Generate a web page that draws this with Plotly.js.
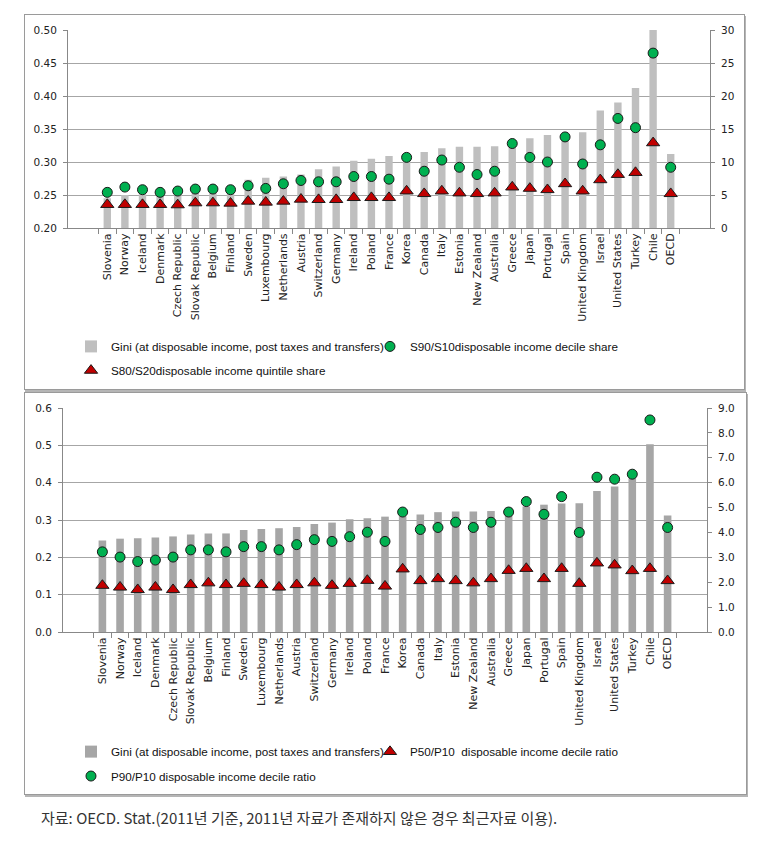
<!DOCTYPE html>
<html>
<head>
<meta charset="utf-8">
<script src="https://cdn.plot.ly/plotly-3.0.1.min.js"></script>
<style>
  html, body { margin: 0; padding: 0; background: #ffffff; }
  body { width: 758px; height: 851px; position: relative; overflow: hidden; }
  .box { position: absolute; border: 1px solid #9a9a9a; box-shadow: 1px 2px 0 #b5b5b5; background: #fff; }
  #boxTop { left: 24px; top: 14px; width: 719px; height: 374px; }
  #boxBot { left: 24px; top: 392px; width: 721px; height: 401px; }
  #chartTop { width: 719px; height: 374px; }
  #chartBot { width: 721px; height: 401px; }
  #caption { position: absolute; left: 41px; top: 807px; font-family: "Noto Sans CJK KR", sans-serif; font-size: 15px; color: #333; white-space: nowrap; }
</style>
</head>
<body>
<div class="box" id="boxTop"><div id="chartTop"></div></div>
<div class="box" id="boxBot"><div id="chartBot"></div></div>
<div id="caption">자료: OECD. Stat.(2011년 기준, 2011년 자료가 존재하지 않은 경우 최근자료 이용).</div>
<script>
// ---------- data ----------
const countries = ["Slovenia","Norway","Iceland","Denmark","Czech Republic","Slovak Republic","Belgium","Finland","Sweden","Luxembourg","Netherlands","Austria","Switzerland","Germany","Ireland","Poland","France","Korea","Canada","Italy","Estonia","New Zealand","Australia","Greece","Japan","Portugal","Spain","United Kingdom","Israel","United States","Turkey","Chile","OECD"];

const gini = [0.245,0.250,0.251,0.253,0.256,0.261,0.264,0.264,0.273,0.276,0.278,0.281,0.289,0.293,0.302,0.305,0.309,0.310,0.315,0.321,0.323,0.323,0.324,0.333,0.336,0.341,0.344,0.345,0.378,0.390,0.412,0.503,0.312];

const s90s10 = [5.4,6.2,5.8,5.4,5.6,5.9,5.9,5.8,6.4,6.0,6.7,7.2,7.0,7.0,7.8,7.8,7.4,10.7,8.6,10.3,9.2,8.1,8.6,12.8,10.7,10.0,13.8,9.7,12.6,16.6,15.2,26.5,9.2];

const s80s20 = [3.55,3.55,3.55,3.55,3.5,3.8,3.8,3.75,4.05,3.9,4.05,4.35,4.3,4.3,4.6,4.6,4.6,5.6,5.2,5.6,5.3,5.2,5.3,6.2,6.0,5.8,6.7,5.6,7.3,8.1,8.4,12.9,5.2];

const p90p10 = [3.22,3.01,2.83,2.89,3.01,3.3,3.3,3.22,3.43,3.43,3.3,3.51,3.71,3.64,3.83,4.01,3.64,4.82,4.12,4.2,4.41,4.2,4.41,4.82,5.24,4.73,5.44,4.0,6.22,6.14,6.34,8.52,4.2];

const p50p10 = [1.87,1.8,1.7,1.8,1.7,1.9,1.97,1.9,1.95,1.9,1.8,1.9,1.97,1.87,1.95,2.07,1.84,2.53,2.06,2.14,2.06,1.97,2.14,2.47,2.55,2.14,2.55,1.95,2.77,2.69,2.46,2.55,2.06];

const nameGini = "Gini (at disposable income, post taxes and transfers)";
const nameS90 = "S90/S10disposable income decile share";
const nameS80 = "S80/S20disposable income quintile share";
const nameP50 = "P50/P10  disposable income decile ratio";
const nameP90 = "P90/P10 disposable income decile ratio";

// ---------- styles ----------
const tickFont = {family: "DejaVu Sans", size: 10.5, color: "#222"};
const catFont = {family: "DejaVu Sans", size: 11, color: "#222"};
const legFont = {family: "Liberation Sans, Arial, sans-serif", size: 11.7, color: "#111"};
const circleMarker = {symbol: "circle", size: 10, color: "#00b050", line: {color: "#1a1a1a", width: 1}};
const triMarker = {symbol: "triangle-up", size: 11.5, color: "#c00000", line: {color: "#1a1a1a", width: 1}};

function xAxis() {
  return {type: "category", tickson: "boundaries", ticks: "outside", ticklen: 5, tickcolor: "#888",
    showline: true, linecolor: "#888", linewidth: 1, tickangle: -90, tickfont: catFont,
    showgrid: false, zeroline: false, automargin: false};
}
function yLeft(range, dtick, fmt) {
  return {range: range, dtick: dtick, tick0: 0, tickformat: fmt, showgrid: true, gridcolor: "#a6a6a6", gridwidth: 1,
    showline: true, linecolor: "#888", ticks: "outside", ticklen: 4, tickcolor: "#888", tickfont: tickFont,
    zeroline: false, ticklabelstandoff: 4, automargin: false};
}
function yRight(range, dtick, fmt) {
  return {range: range, dtick: dtick, tick0: 0, tickformat: fmt, overlaying: "y", side: "right", showgrid: false,
    showline: true, linecolor: "#888", ticks: "outside", ticklen: 4, tickcolor: "#888", tickfont: tickFont,
    zeroline: false, ticklabelstandoff: 4, automargin: false};
}
function leg(x, y) {
  return {orientation: "h", x: x, xanchor: "left", y: y, yanchor: "middle", font: legFont,
    bgcolor: "rgba(0,0,0,0)", itemwidth: 30};
}

// ---------- top chart ----------
const topData = [
  {type: "bar", x: countries, y: gini, name: nameGini, marker: {color: "#bfbfbf"}, legend: "legend", yaxis: "y"},
  {type: "scatter", mode: "markers", x: countries, y: s90s10, name: nameS90, marker: circleMarker, yaxis: "y2", legend: "legend2"},
  {type: "scatter", mode: "markers", x: countries, y: s80s20, name: nameS80, marker: triMarker, yaxis: "y2", legend: "legend3"}
];
const topLayout = {
  width: 719, height: 374,
  margin: {l: 43, r: 34, t: 15, b: 161, autoexpand: false},
  paper_bgcolor: "#ffffff", plot_bgcolor: "#ffffff",
  bargap: 0.58,
  showlegend: true,
  xaxis: xAxis(),
  yaxis: yLeft([0.2, 0.5], 0.05, ".2f"),
  yaxis2: yRight([0, 30], 5, "d"),
  legend: leg(0.0047, -0.598),
  legend2: leg(0.4704, -0.598),
  legend3: leg(0.0047, -0.719)
};

// ---------- bottom chart ----------
const botData = [
  {type: "bar", x: countries, y: gini, name: nameGini, marker: {color: "#a6a6a6"}, legend: "legend", yaxis: "y"},
  {type: "scatter", mode: "markers", x: countries, y: p90p10, name: nameP90, marker: circleMarker, yaxis: "y2", legend: "legend3"},
  {type: "scatter", mode: "markers", x: countries, y: p50p10, name: nameP50, marker: triMarker, yaxis: "y2", legend: "legend2"}
];
const botLayout = {
  width: 721, height: 401,
  margin: {l: 38, r: 39, t: 15, b: 162, autoexpand: false},
  paper_bgcolor: "#ffffff", plot_bgcolor: "#ffffff",
  bargap: 0.57,
  showlegend: true,
  xaxis: xAxis(),
  yaxis: yLeft([0, 0.6], 0.1, ".1f"),
  yaxis2: yRight([0, 9], 1, ".1f"),
  legend: leg(0.0124, -0.534),
  legend2: leg(0.4767, -0.534),
  legend3: leg(0.0124, -0.643)
};

const cfg = {staticPlot: true, displayModeBar: false};
Plotly.newPlot("chartTop", topData, topLayout, cfg);
Plotly.newPlot("chartBot", botData, botLayout, cfg);
</script>
</body>
</html>
